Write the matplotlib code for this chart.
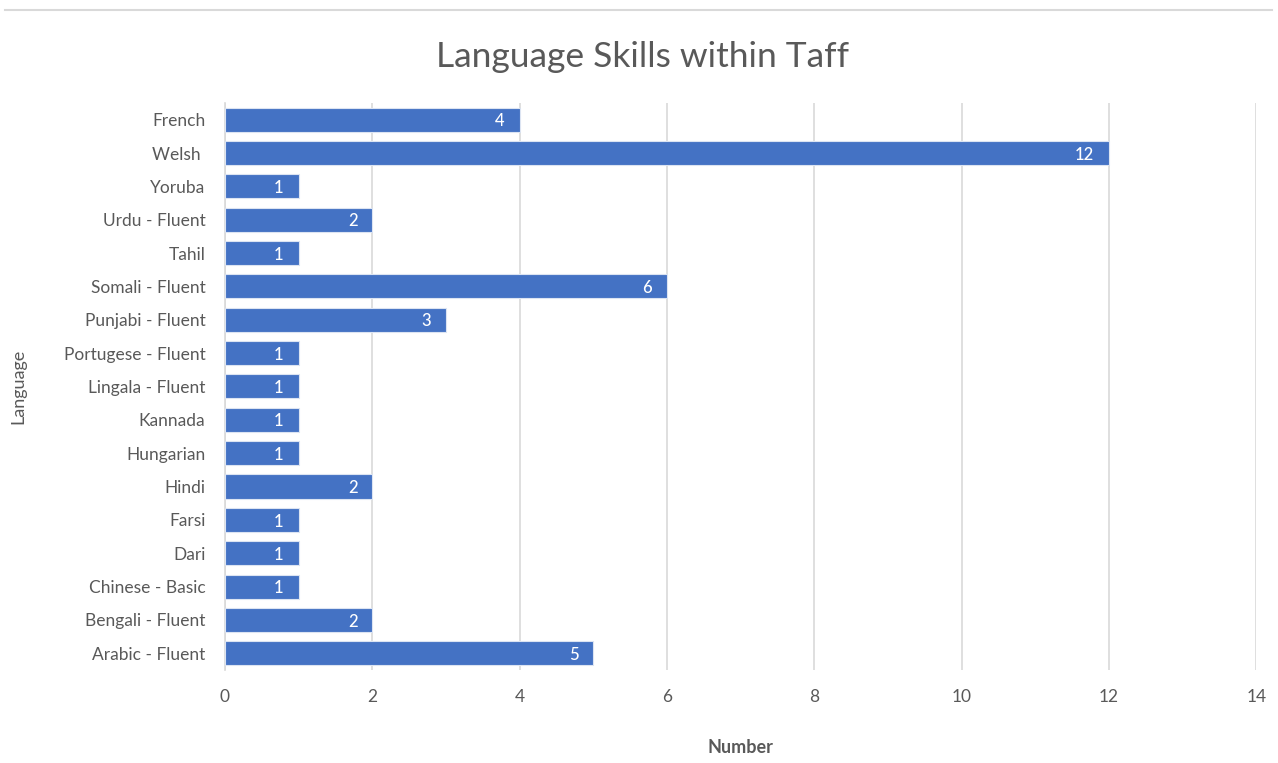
import matplotlib.pyplot as plt
from matplotlib.lines import Line2D

# Data (top to bottom)
languages = ["French", "Welsh ", "Yoruba", "Urdu - Fluent", "Tahil", "Somali - Fluent",
             "Punjabi - Fluent", "Portugese - Fluent", "Lingala - Fluent", "Kannada",
             "Hungarian", "Hindi", "Farsi", "Dari", "Chinese - Basic",
             "Bengali - Fluent", "Arabic - Fluent"]
counts = [4, 12, 1, 2, 1, 6, 3, 1, 1, 1, 1, 2, 1, 1, 1, 2, 5]
x_ticks = [0, 2, 4, 6, 8, 10, 12, 14]

plt.rcParams['font.family'] = ['Lato', 'DejaVu Sans']
grey = "#595959"
blue = "#4472C4"

fig = plt.figure(figsize=(12.78, 7.63), dpi=100)
ax = fig.add_axes([0.176, 0.122, 0.807, 0.743])

ypos = list(range(len(languages)))[::-1]
bars = ax.barh(ypos, counts, height=0.72, color=blue, edgecolor="#dce4f2", linewidth=0.8, zorder=3)

for y, v in zip(ypos, counts):
    ax.text(v - 0.2, y - 0.05, str(v), ha="right", va="center", color="white",
            fontsize=12, fontweight="medium", zorder=4)

ax.set_xlim(0, 14)
ax.set_ylim(-0.5, len(languages) - 0.5)
ax.set_xticks(x_ticks)
ax.set_yticks(ypos)
ax.set_yticklabels(languages)
ax.tick_params(axis="both", length=0, labelsize=12.5, colors=grey)
ax.tick_params(axis="x", pad=14)
ax.tick_params(axis="y", pad=14)
ax.xaxis.grid(True, color="#d9d9d9", linewidth=1.2, zorder=0)
for s in ["top", "right", "bottom"]:
    ax.spines[s].set_visible(False)
ax.spines["left"].set_color("#d9d9d9")
ax.spines["left"].set_linewidth(1.2)

ax.set_xlabel("Number", fontsize=13, color=grey, fontweight="bold", labelpad=24)
ax.set_ylabel("Language", fontsize=13, color=grey)
ax.yaxis.set_label_coords(-0.193, 0.5)

fig.text(0.503, 0.925, "Language Skills within Taff", ha="center", va="center",
         fontsize=25.5, color=grey)

fig.add_artist(Line2D([0.004, 0.995], [0.987, 0.987], color="#d9d9d9", linewidth=1.5))

fig.savefig("out.png", dpi=100)
